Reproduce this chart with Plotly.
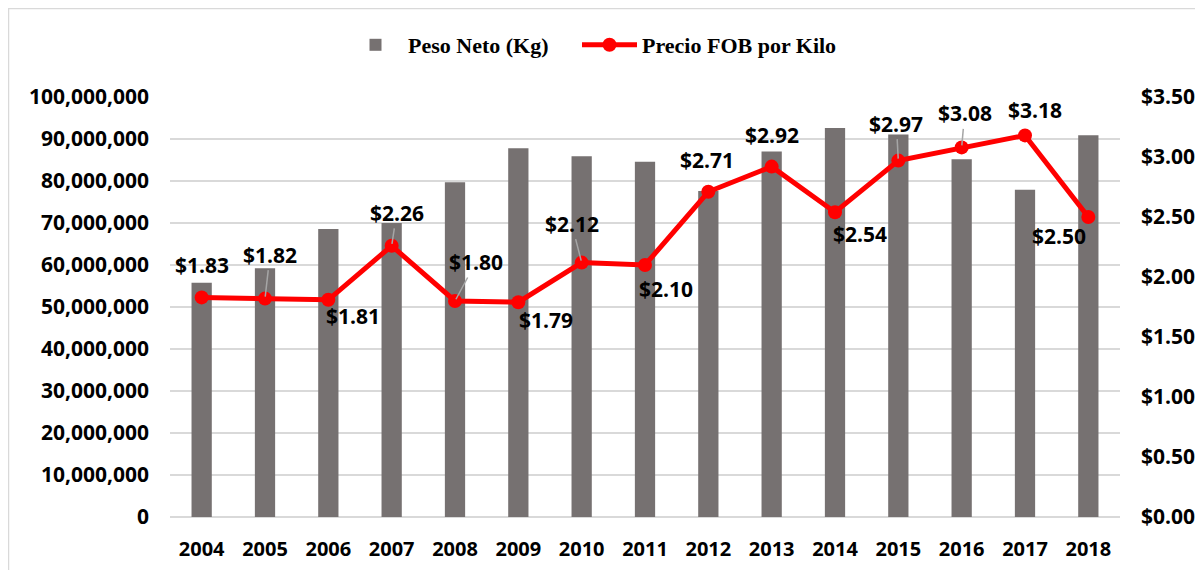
import plotly.graph_objects as go

years = [2004, 2005, 2006, 2007, 2008, 2009, 2010, 2011,
         2012, 2013, 2014, 2015, 2016, 2017, 2018]
peso_neto = [55800000, 59200000, 68600000, 70000000, 79700000, 87800000, 85900000,
             84600000, 77600000, 87000000, 92600000, 91100000, 85200000, 77900000, 90900000]
precio_fob = [1.83, 1.82, 1.81, 2.26, 1.80, 1.79, 2.12, 2.10,
              2.71, 2.92, 2.54, 2.97, 3.08, 3.18, 2.50]
left_ticks = [0, 10000000, 20000000, 30000000, 40000000, 50000000,
              60000000, 70000000, 80000000, 90000000, 100000000]
right_ticks = [0, 0.5, 1.0, 1.5, 2.0, 2.5, 3.0, 3.5]

# label offsets (pixels) relative to each point, and whether a leader line is drawn
label_dx = [0, 5, 25, 5, 21, 28, -10, 21, -1, 0, 25, -2, 3, 10, -29]
label_dy = [-32, -44, 16, -33, -39, 18, -39, 24, -32, -32, 22, -37, -34, -25, 19]
leader = [False, True, False, True, True, False, True, False,
          False, False, False, True, True, False, False]

FONT = "Open Sans"
# the page body adds an 8px offset; the figure is sized to compensate
L, T, PW, PH = 162, 89, 950, 420
W, H = 1195, 562

fig = go.Figure()
fig.add_trace(go.Bar(
    x=years, y=peso_neto, name="Peso Neto (Kg)",
    marker=dict(color="#767171", line=dict(width=0)),
    yaxis="y", legend="legend",
))
fig.add_trace(go.Scatter(
    x=years, y=precio_fob, name="Precio FOB por Kilo",
    mode="lines+markers",
    line=dict(color="#ff0000", width=5),
    marker=dict(color="#ff0000", size=14),
    yaxis="y2", legend="legend2",
))

for i, (yr, v) in enumerate(zip(years, precio_fob)):
    fig.add_annotation(
        x=yr, y=v, xref="x", yref="y2",
        text=f"${v:.2f}",
        showarrow=True,
        ax=label_dx[i], ay=label_dy[i],
        arrowhead=0, arrowwidth=1.5,
        arrowcolor="#a6a6a6" if leader[i] else "rgba(0,0,0,0)",
        standoff=2,
        font=dict(family=FONT, size=21, color="#000000", weight="bold"),
    )

# outer chart border (top and left edges visible)
fig.add_shape(type="rect", xref="paper", yref="paper",
              x0=(0.5 - L) / PW, x1=(W + 10 - L) / PW,
              y0=(T + PH - H - 10) / PH, y1=(T + PH - 0.5) / PH,
              line=dict(color="#d9d9d9", width=1.5), layer="below")

legend_font = dict(family="Liberation Serif", size=22, color="#000000", weight="bold")

fig.update_layout(
    width=W, height=H,
    margin=dict(l=L, r=W - L - PW, t=T, b=H - T - PH, autoexpand=False),
    paper_bgcolor="white", plot_bgcolor="white",
    bargap=0.68,
    showlegend=True,
    legend=dict(orientation="h", x=(343 - 170) / PW, y=(T + PH - 37) / PH,
                xanchor="left", yanchor="middle", font=legend_font,
                itemwidth=55, bgcolor="rgba(0,0,0,0)"),
    legend2=dict(orientation="h", x=(577 - 170) / PW, y=(T + PH - 37) / PH,
                 xanchor="left", yanchor="middle", font=legend_font,
                 itemwidth=55, bgcolor="rgba(0,0,0,0)"),
    xaxis=dict(
        range=[2003.5, 2018.5], tickvals=years, tickformat="d",
        showgrid=False, showline=False, zeroline=False,
        tickfont=dict(family=FONT, size=20, color="#000000", weight="bold"),
        ticks="", ticklabelstandoff=18,
    ),
    yaxis=dict(
        range=[0, 100000000], tickvals=left_ticks, tickformat=",d",
        showgrid=True, gridcolor="#d9d9d9", gridwidth=1.5,
        zeroline=True, zerolinecolor="#d9d9d9", zerolinewidth=1.5,
        showline=False, ticks="", ticklabelstandoff=20,
        tickfont=dict(family=FONT, size=21, color="#000000", weight="bold"),
    ),
    yaxis2=dict(
        range=[0, 3.5], tickvals=right_ticks, tickformat="$.2f",
        overlaying="y", side="right", showgrid=False, zeroline=False,
        showline=False, ticks="", ticklabelstandoff=20,
        tickfont=dict(family=FONT, size=21, color="#000000", weight="bold"),
    ),
)

fig.write_html("out.html")
